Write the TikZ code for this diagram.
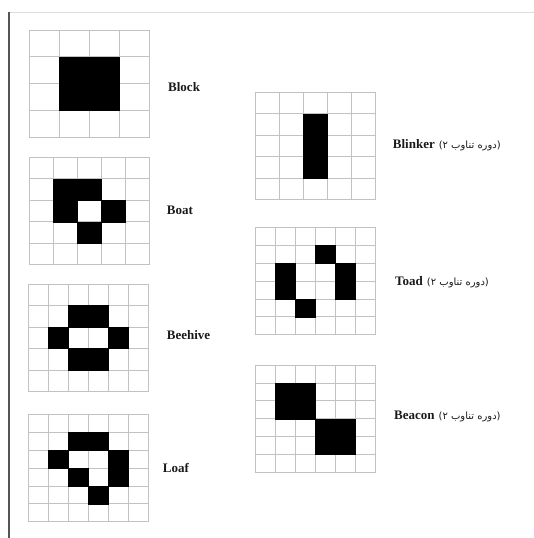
\documentclass[tikz,border=0pt]{standalone}
\usepackage{fontspec}
\setmainfont{Liberation Serif}
\newfontfamily\farsifont[Script=Arabic]{DejaVu Sans}
\TeXXeTstate=1
\usetikzlibrary{positioning}
\definecolor{lfgrid}{HTML}{C2C2C2}
\definecolor{lfcell}{HTML}{000000}
\definecolor{lfframe}{HTML}{555555}
\definecolor{lfrule}{HTML}{DDDDDD}
\definecolor{lftext}{HTML}{1A1A1A}
\tikzset{
  gridline/.style={draw=lfgrid,line width=0.8pt},
  alive/.style={fill=lfcell,draw=lfcell,line width=0.3pt},
  lab/.style={anchor=west,inner sep=0pt,text=lftext,
              font=\fontsize{13}{15}\selectfont\bfseries},
  frameline/.style={draw=lfframe,line width=1.2pt},
  topline/.style={draw=lfrule,line width=0.8pt},
}
% Persian "(period 2)"
\newcommand{\periodtwo}{\hspace{4pt}{\mdseries\farsifont\fontsize{10}{12}\selectfont\beginR(دوره تناوب ۲)\endR}}
% board: corner x, corner y, columns, rows, live cells c/r
\newcommand{\lifeboard}[5]{%
  \pgfmathsetmacro\lfcw{120/#3}%
  \pgfmathsetmacro\lfch{107.5/#4}%
  \begin{scope}[shift={(#1,#2)},x=\lfcw pt,y=-\lfch pt]
    \foreach \i in {0,...,#3} \draw[gridline] (\i,0) -- (\i,#4);
    \foreach \j in {0,...,#4} \draw[gridline] (0,\j) -- (#3,\j);
    \foreach \c/\r in {#5} \filldraw[alive] (\c,\r) rectangle ++(1,1);
  \end{scope}}

\begin{document}
\begin{tikzpicture}[x=1pt,y=-1pt]
  \useasboundingbox (0,0) rectangle (534,538);
  \draw[topline] (9,12) -- (534,12);
  \draw[frameline] (9,12) -- (9,538);

  % still lifes
  \lifeboard{29.3}{30}{4}{4}{1/1,2/1,1/2,2/2}
  \lifeboard{29.3}{157.3}{5}{5}{1/1,2/1,1/2,3/2,2/3}
  \lifeboard{28.5}{284}{6}{5}{2/1,3/1,1/2,4/2,2/3,3/3}
  \lifeboard{28.5}{414.3}{6}{6}{2/1,3/1,1/2,4/2,2/3,4/3,3/4}
  \node[lab] (block) at (168,86.7) {Block};
  \node[lab] (boat) at (166.7,210.7) {Boat};
  \node[lab] (beehive) at (166.7,335) {Beehive};
  \node[lab] (loaf) at (162.7,467.7) {Loaf};

  % oscillators
  \lifeboard{255}{92.3}{5}{5}{2/1,2/2,2/3}
  \lifeboard{255}{227.3}{6}{6}{3/1,1/2,4/2,1/3,4/3,2/4}
  \lifeboard{255}{365}{6}{6}{1/1,2/1,1/2,2/2,3/3,4/3,3/4,4/4}
  \node[lab] (blinker) at (392.7,145.7) {Blinker\periodtwo};
  \node[lab] (toad) at (395,282.7) {Toad\periodtwo};
  \node[lab] (beacon) at (394,416.7) {Beacon\periodtwo};
\end{tikzpicture}
\end{document}
